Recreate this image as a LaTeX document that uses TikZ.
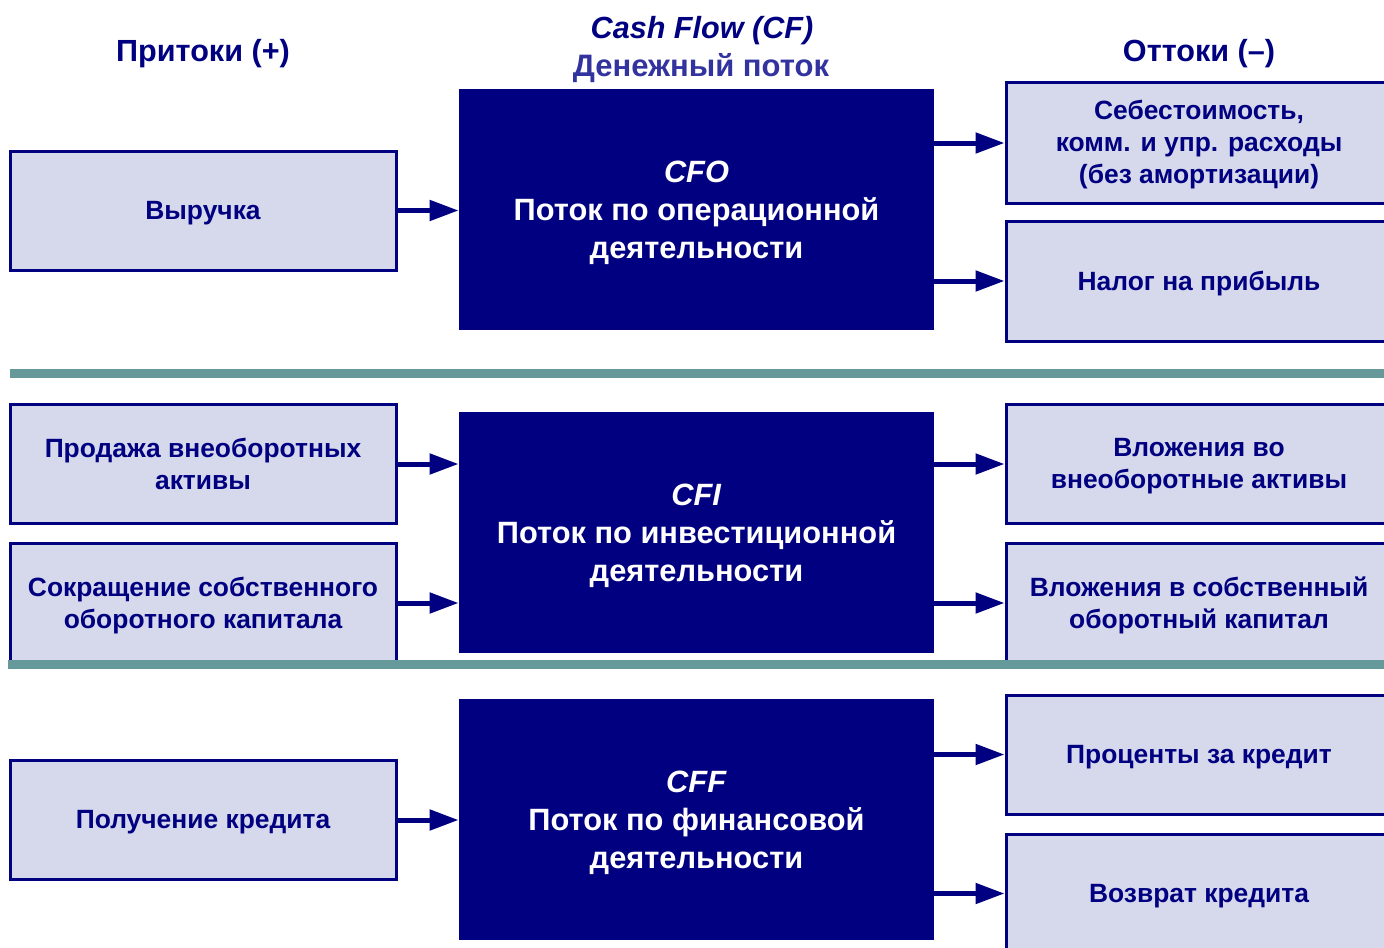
\documentclass[tikz,border=0pt]{standalone}
\usepackage{fontspec}
\setmainfont{Liberation Sans}
\usetikzlibrary{arrows.meta}
\definecolor{navy}{RGB}{0,0,128}
\definecolor{lav}{RGB}{214,216,236}
\definecolor{teal}{RGB}{102,153,153}
\definecolor{slate}{RGB}{51,51,160}
\tikzset{
  sidebox/.style={draw=navy, line width=1.5pt, fill=lav,
    minimum width=193pt, minimum height=59.5pt, inner sep=0pt},
  sidetext/.style={text=navy, align=center, inner sep=0pt,
    font=\fontsize{13.2}{16}\selectfont\bfseries},
  mainbox/.style={fill=navy, minimum width=237.5pt,
    minimum height=120.5pt, inner sep=0pt},
  maintext/.style={text=white, align=center, inner sep=0pt,
    font=\fontsize{15.4}{19}\selectfont\bfseries},
  flow/.style={draw=navy, line width=2.5pt, -{Triangle[length=14.5pt,width=10pt]}},
  sep/.style={draw=teal, line width=4.5pt},
  head/.style={text=navy, font=\fontsize{15.3}{18}\selectfont\bfseries}
}
\begin{document}
\begin{tikzpicture}[x=0.5pt,y=-0.5pt]
\useasboundingbox (0,0) rectangle (1384,947);
\clip (0,0) rectangle (1384,947);
% headers
\node[head] (hin) at (203,54) {Притоки (+)};
\node[head] (hout) at (1199,54) {Оттоки (–)};
\node[head, font=\fontsize{15.3}{18}\selectfont\bfseries\itshape] (hcf) at (702,31) {Cash Flow (CF)};
\node[head, text=slate, font=\fontsize{15.5}{18}\selectfont\bfseries] (hden) at (701,68) {Денежный поток};
% main boxes
\node[mainbox] (cfo) at (696.5,209.5) {};
\node[mainbox] (cfi) at (696.5,532.5) {};
\node[mainbox] (cff) at (696.5,819.5) {};
\node[maintext] (cfot) at ([yshift=-1.75pt]cfo.center) {\textit{CFO}\\Поток по операционной\\деятельности};
\node[maintext] (cfit) at ([yshift=-1.75pt]cfi.center) {\textit{CFI}\\Поток по инвестиционной\\деятельности};
\node[maintext] (cfft) at ([yshift=-1.75pt]cff.center) {\textit{CFF}\\Поток по финансовой\\деятельности};
% left boxes
\node[sidebox] (l1) at (203,210.5) {};
\node[sidebox] (l2) at (203,464) {};
\node[sidebox] (l3) at (203,603) {};
\node[sidebox] (l4) at (203,820) {};
\node[sidetext] (l1t) at ([yshift=-1.25pt]l1.center) {Выручка};
\node[sidetext] (l2t) at ([yshift=0.25pt]l2.center) {Продажа внеоборотных\\активы};
\node[sidetext] (l3t) at ([yshift=-1.25pt]l3.center) {Сокращение собственного\\оборотного капитала};
\node[sidetext] (l4t) at ([yshift=-1.25pt]l4.center) {Получение кредита};
% right boxes
\node[sidebox, minimum height=60pt] (r1) at (1199,143) {};
\node[sidebox, minimum height=60pt] (r2) at (1199,281) {};
\node[sidebox] (r3) at (1199,464) {};
\node[sidebox] (r4) at (1199,603) {};
\node[sidebox] (r5) at (1199,754.5) {};
\node[sidebox] (r6) at (1199,893.5) {};
\node[sidetext] (r1t) at ([yshift=-0.75pt]r1.center) {Себестоимость,\\комм. и упр. расходы\\(без амортизации)};
\node[sidetext] (r2t) at ([yshift=-1.25pt]r2.center) {Налог на прибыль};
\node[sidetext] (r3t) at ([yshift=-1.25pt]r3.center) {Вложения во\\внеоборотные активы};
\node[sidetext] (r4t) at ([yshift=-1.25pt]r4.center) {Вложения в собственный\\оборотный капитал};
\node[sidetext] (r5t) at ([yshift=-1.25pt]r5.center) {Проценты за кредит};
\node[sidetext] (r6t) at ([yshift=-1.25pt]r6.center) {Возврат кредита};
% flows in
\draw[flow] (l1.east) -- (l1.east -| cfo.west);
\draw[flow] (l2.east) -- (l2.east -| cfi.west);
\draw[flow] (l3.east) -- (l3.east -| cfi.west);
\draw[flow] (l4.east) -- (l4.east -| cff.west);
% flows out
\draw[flow] (cfo.east |- r1.west) -- (r1.west);
\draw[flow] (cfo.east |- r2.west) -- (r2.west);
\draw[flow] (cfi.east |- r3.west) -- (r3.west);
\draw[flow] (cfi.east |- r4.west) -- (r4.west);
\draw[flow] (cff.east |- r5.west) -- (r5.west);
\draw[flow] (cff.east |- r6.west) -- (r6.west);
% separators
\coordinate (s1a) at (10,373); \coordinate (s1b) at (1384,373);
\coordinate (s2a) at (8,664.5); \coordinate (s2b) at (1384,664.5);
\draw[sep] (s1a) -- (s1b);
\draw[sep] (s2a) -- (s2b);
\end{tikzpicture}
\end{document}
